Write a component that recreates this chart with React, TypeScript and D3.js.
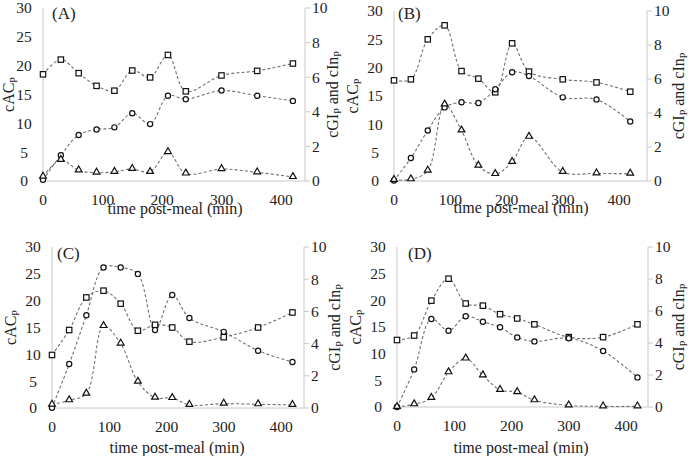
import * as d3 from "d3";

// sampling times (min)
const times = [0, 30, 60, 90, 120, 150, 180, 210, 240, 300, 360, 420];
const xTicks = [0, 100, 200, 300, 400];
const leftTicks = [0, 5, 10, 15, 20, 25, 30];
const rightTicks = [0, 2, 4, 6, 8, 10];
const panelNames = ["(A)", "(B)", "(C)", "(D)"];

// cAC_P (left axis), squares
const acA = [18.5, 21.05, 18.7, 16.5, 15.66, 19.16, 17.96, 21.86, 15.55, 18.3, 19.1, 20.37];
const acB = [17.76, 17.94, 25.0, 27.47, 19.4, 18.06, 15.65, 24.3, 19.3, 17.94, 17.4, 15.76];
const acC = [9.88, 14.53, 20.6, 21.86, 19.44, 14.4, 15.5, 15.0, 12.36, 13.2, 15.0, 17.8];
const acD = [12.56, 13.4, 19.94, 24.06, 19.4, 19.0, 17.4, 16.6, 15.5, 13.1, 13.1, 15.5];

// cGI_P (right axis), circles
const giA = [0.07, 1.49, 2.66, 2.98, 3.1, 3.92, 3.29, 4.93, 4.73, 5.23, 4.93, 4.63];
const giB = [0.03, 1.35, 2.97, 4.33, 4.63, 4.59, 5.4, 6.4, 6.17, 4.92, 4.8, 3.5];
const giC = [0.02, 2.73, 5.76, 8.73, 8.73, 8.33, 4.84, 7.02, 5.59, 4.73, 3.56, 2.86];
const giD = [0, 2.35, 5.5, 4.77, 5.67, 5.33, 4.98, 4.35, 4.1, 4.3, 3.5, 1.85];

// cIn_P (right axis), triangles
const inA = [0.25, 1.22, 0.61, 0.48, 0.53, 0.7, 0.52, 1.67, 0.43, 0.69, 0.5, 0.23];
const inB = [0.06, 0.1, 0.61, 4.5, 2.97, 0.9, 0.41, 1.12, 2.6, 0.53, 0.45, 0.43];
const inC = [0.21, 0.48, 0.89, 5.09, 4.0, 1.63, 0.64, 0.62, 0.19, 0.27, 0.23, 0.19];
const inD = [0, 0.17, 0.57, 2.17, 3.03, 1.98, 1.07, 0.93, 0.42, 0.1, 0.04, 0.04];

// panel geometry in page pixels
const layouts = [
  { x0: 43, x400: 281, xr: 305, top: 8, bottom: 181, titleX: 175, titleY: 214, leftT: 14, rightT: 338, lx: 52, ly: 19 },
  { x0: 394, x400: 619, xr: 647, top: 11, bottom: 181, titleX: 521, titleY: 213, leftT: 358, rightT: 684, lx: 398, ly: 19 },
  { x0: 52, x400: 281, xr: 304, top: 247, bottom: 408, titleX: 177, titleY: 453, leftT: 16, rightT: 340, lx: 57, ly: 259 },
  { x0: 397, x400: 626, xr: 648, top: 247, bottom: 407, titleX: 521, titleY: 453, leftT: 361, rightT: 684, lx: 408, ly: 259 },
];

const FONT = "Liberation Serif";
const AXIS = "#c8c8c8";

function Panel({ idx, ac, gi, ins }: { idx: number; ac: number[]; gi: number[]; ins: number[] }) {
  const L = layouts[idx];
  const x = d3.scaleLinear().domain([0, 400]).range([L.x0, L.x400]);
  const yL = d3.scaleLinear().domain([0, 30]).range([L.bottom, L.top]);
  const yR = d3.scaleLinear().domain([0, 10]).range([L.bottom, L.top]);
  const curve = d3.curveCatmullRom.alpha(0.5);
  const lineL = d3.line<number>().x((_, i) => x(times[i])).y((d) => yL(d)).curve(curve);
  const lineR = d3.line<number>().x((_, i) => x(times[i])).y((d) => yR(d)).curve(curve);
  const tri = d3.symbol(d3.symbolTriangle, 20)() as string;
  const midY = (L.top + L.bottom) / 2;
  const dash = { fill: "none", stroke: "#707070", strokeWidth: 1.1, strokeDasharray: "3,2.2" };
  const mk = { fill: "#fff", stroke: "#111", strokeWidth: 1.2 };

  return (
    <g style={{ fontFamily: FONT }} fill="#222">
      <line x1={L.x0} x2={L.x0} y1={L.top} y2={L.bottom} stroke={AXIS} />
      <line x1={L.xr} x2={L.xr} y1={L.top} y2={L.bottom} stroke={AXIS} />
      <line x1={L.x0} x2={L.xr} y1={L.bottom} y2={L.bottom} stroke={AXIS} />
      {rightTicks.map((t) => (
        <g key={"r" + t}>
          <line x1={L.xr} x2={L.xr + 5} y1={yR(t)} y2={yR(t)} stroke={AXIS} />
          <text x={L.xr + 7} y={yR(t)} dy="0.35em" fontSize={15.5}>{t}</text>
        </g>
      ))}
      {leftTicks.map((t) => (
        <text key={"l" + t} x={L.x0 - 19} y={yL(t)} dy="0.35em" fontSize={15.5} textAnchor="middle">{t}</text>
      ))}
      {xTicks.map((t) => (
        <text key={"x" + t} x={x(t)} y={L.bottom + 19} dy="0.35em" fontSize={15.5} textAnchor="middle">{t}</text>
      ))}
      <text x={L.titleX} y={L.titleY} fontSize={16} textAnchor="middle">time post-meal (min)</text>
      <text transform={`translate(${L.leftT},${midY}) rotate(-90)`} textAnchor="middle" fontSize={16}>
        cAC<tspan fontSize={10} dy={3}>P</tspan>
      </text>
      <text transform={`translate(${L.rightT},${midY}) rotate(-90)`} textAnchor="middle" fontSize={16}>
        cGI<tspan fontSize={10} dy={3}>P</tspan>
        <tspan dy={-3}> and cIn</tspan>
        <tspan fontSize={10} dy={3}>P</tspan>
      </text>
      <text x={L.lx} y={L.ly} fontSize={17}>{panelNames[idx]}</text>

      <path d={lineL(ac) ?? ""} {...dash} />
      <path d={lineR(gi) ?? ""} {...dash} />
      <path d={lineR(ins) ?? ""} {...dash} />

      {ac.map((d, i) => (
        <rect key={"s" + i} x={x(times[i]) - 2.7} y={yL(d) - 2.7} width={5.4} height={5.4} {...mk} />
      ))}
      {gi.map((d, i) => (
        <circle key={"c" + i} cx={x(times[i])} cy={yR(d)} r={2.6} {...mk} />
      ))}
      {ins.map((d, i) => (
        <path key={"t" + i} d={tri} transform={`translate(${x(times[i])},${yR(d) - 0.5})`} {...mk} />
      ))}
    </g>
  );
}

export default function App() {
  return (
    <svg width={690} height={456} style={{ position: "absolute", left: 0, top: 0, background: "#fff" }}>
      <rect width={690} height={456} fill="#fff" />
      <Panel idx={0} ac={acA} gi={giA} ins={inA} />
      <Panel idx={1} ac={acB} gi={giB} ins={inB} />
      <Panel idx={2} ac={acC} gi={giC} ins={inC} />
      <Panel idx={3} ac={acD} gi={giD} ins={inD} />
    </svg>
  );
}
